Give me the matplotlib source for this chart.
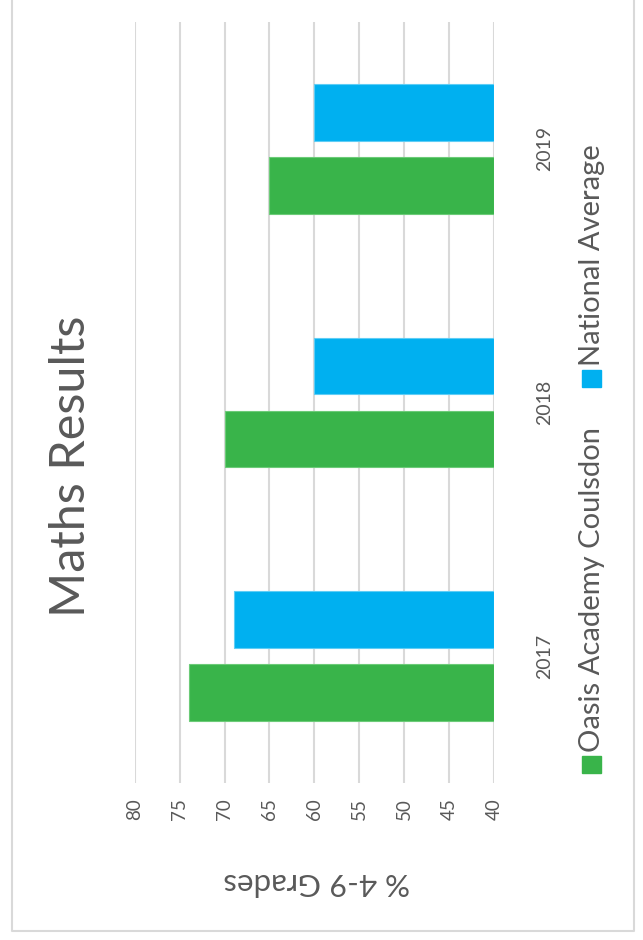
import numpy as np
from matplotlib import pyplot as plt
from matplotlib.patches import Rectangle
from matplotlib.lines import Line2D


years = ['2017', '2018', '2019']
oasis = [74, 70, 65]
national = [69, 60, 60]
series_names = ['Oasis Academy Coulsdon', 'National Average']
value_ticks = [40, 45, 50, 55, 60, 65, 70, 75, 80]

green = '#39B44A'
blue = '#00B0F0'
grey_text = '#595959'
grid_grey = '#D9D9D9'

W, H = 643, 940
plt.rcParams['font.family'] = ['Lato', 'DejaVu Sans']

fig = plt.figure(figsize=(W / 100, H / 100), dpi=100)

# chart is drawn turned a quarter turn: value axis runs right->left
ax = fig.add_axes([134.7 / W, 1 - 783 / H, (494 - 134.7) / W, (783 - 22) / H])

pos = np.arange(len(years))
bh = 0.223
off = 0.144
base = 40
ax.barh(pos - off, np.array(oasis) - base, left=base, height=bh,
        color=green, edgecolor='#6CCB78', linewidth=0.8, zorder=3)
ax.barh(pos + off, np.array(national) - base, left=base, height=bh,
        color=blue, edgecolor='#5FCDF5', linewidth=0.8, zorder=3)

ax.set_xlim(80, 40)
ax.set_ylim(-0.5, len(years) - 0.5)
ax.set_xticks(value_ticks)
ax.set_xticklabels([str(v) for v in value_ticks], rotation=90,
                   color=grey_text, fontsize=13.5)
ax.set_yticks(pos)
ax.set_yticklabels(years, rotation=90, va='center', color=grey_text, fontsize=14)
ax.yaxis.tick_right()
ax.tick_params(axis='x', length=0, pad=11)
ax.tick_params(axis='y', length=0, pad=30)
ax.grid(axis='x', color=grid_grey, linewidth=1.5, zorder=0)
for s in ax.spines.values():
    s.set_visible(False)

# title and axis title (rotated with the chart)
fig.text(71 / W, 1 - 466 / H, 'Maths Results', rotation=90, ha='center',
         va='center', fontsize=35, color=grey_text)
fig.text(317 / W, 1 - 882 / H, '% 4-9 Grades', rotation=180, ha='center',
         va='center', fontsize=22.5, color=grey_text)

# legend drawn by hand, turned like the rest
fig.add_artist(Rectangle((582 / W, 1 - 773 / H), 19 / W, 17 / H,
                         transform=fig.transFigure, color=green))
fig.text(592 / W, 1 - 752 / H, series_names[0], rotation=90, ha='center',
         va='bottom', fontsize=21, color=grey_text)
fig.add_artist(Rectangle((582 / W, 1 - 387 / H), 19 / W, 17 / H,
                         transform=fig.transFigure, color=blue))
fig.text(592 / W, 1 - 366 / H, series_names[1], rotation=90, ha='center',
         va='bottom', fontsize=21, color=grey_text)

# chart border (top edge runs off the picture)
fig.add_artist(Line2D([11.5 / W, 11.5 / W, 634 / W, 634 / W],
                      [1.01, 1 - 931 / H, 1 - 931 / H, 1.01],
                      transform=fig.transFigure, color=grid_grey, linewidth=1.5))

fig.savefig('out.png', dpi=100, facecolor='white')
